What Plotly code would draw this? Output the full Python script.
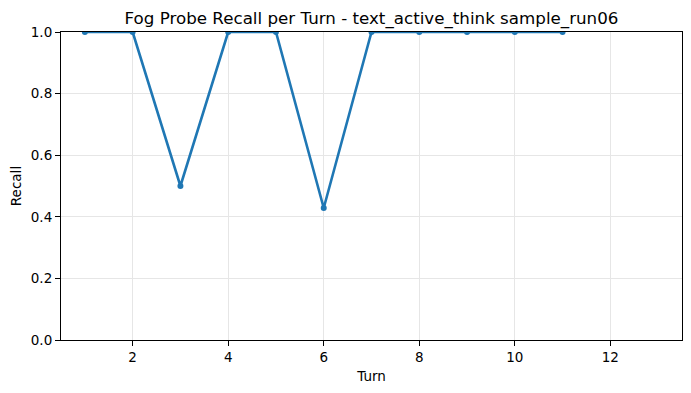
import plotly.graph_objects as go

turns = [1, 2, 3, 4, 5, 6, 7, 8, 9, 10, 11]
recall = [1.0, 1.0, 0.5, 1.0, 1.0, 3/7, 1.0, 1.0, 1.0, 1.0, 1.0]
x_ticks = [2, 4, 6, 8, 10, 12]
y_ticks = [0.0, 0.2, 0.4, 0.6, 0.8, 1.0]
title = "Fog Probe Recall per Turn - text_active_think sample_run06"

fig = go.Figure()
fig.add_trace(go.Scatter(
    x=turns, y=recall, mode="lines+markers",
    line=dict(color="#1f77b4", width=2.6),
    marker=dict(color="#1f77b4", size=6),
    cliponaxis=True,
))

font = "DejaVu Sans, sans-serif"
axis_common = dict(
    showline=True, linecolor="black", linewidth=1.1, mirror=True,
    ticks="outside", ticklen=5, tickwidth=1.1, tickcolor="black",
    showgrid=True, gridcolor="#e6e6e6", gridwidth=1.1,
    zeroline=False, tickfont=dict(family=font, size=13.5, color="black"),
)

fig.update_layout(
    width=691, height=393,
    margin=dict(l=61, r=9, t=32, b=53),
    paper_bgcolor="white", plot_bgcolor="white",
    showlegend=False,
    title=dict(text=title, x=0.5, xref="paper", xanchor="center",
               y=1, yref="paper", yanchor="bottom", pad=dict(b=8),
               font=dict(family=font, size=16.7, color="black")),
    xaxis=dict(range=[0.5, 13.5], tickvals=x_ticks,
               title=dict(text="Turn", font=dict(family=font, size=13.5, color="black"), standoff=7),
               **axis_common),
    yaxis=dict(range=[0, 1], tickvals=y_ticks, tickformat=".1f",
               title=dict(text="Recall", font=dict(family=font, size=13.5, color="black"), standoff=6),
               **axis_common),
)

fig.write_html("out.html")
